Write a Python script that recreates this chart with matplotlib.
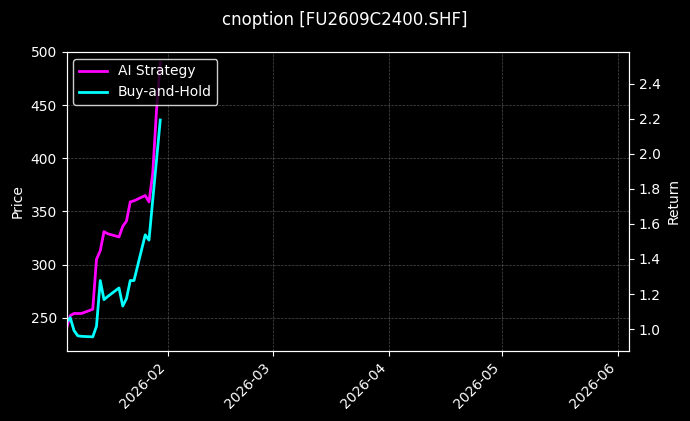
import matplotlib
matplotlib.use('Agg')
import matplotlib.pyplot as plt
import matplotlib.dates as mdates
import pandas as pd

dates = pd.to_datetime([
    '2026-01-05', '2026-01-06', '2026-01-07', '2026-01-08', '2026-01-09',
    '2026-01-12', '2026-01-13', '2026-01-14', '2026-01-15', '2026-01-16',
    '2026-01-19', '2026-01-20', '2026-01-21', '2026-01-22', '2026-01-23',
    '2026-01-26', '2026-01-27', '2026-01-28', '2026-01-29', '2026-01-30',
])
ai_strategy = [240, 252, 254, 254, 254, 258, 305, 313, 331, 329,
               326, 336, 341, 359, 360, 365, 359, 386, 445, 490]
buy_hold = [246, 250, 238, 233, 232.5, 232, 242, 285, 267, 270,
            278, 261, 268, 285, 285, 328, 323, 361, 398, 436]

plt.style.use('dark_background')
fig = plt.figure(figsize=(6.9, 4.21), dpi=100)
ax = fig.add_axes([66.5 / 690, 70 / 421, 562.5 / 690, 299 / 421])
ax2 = ax.twinx()

ax.plot(dates, ai_strategy, color='#ff00ff', lw=2, label='AI Strategy')
ax.plot(dates, buy_hold, color='#00ffff', lw=2, label='Buy-and-Hold')

ax.set_ylim(218.7, 500)
ax.set_xlim(pd.Timestamp('2026-01-05'), pd.Timestamp('2026-06-04'))
ax2.set_ylim(0.875, 2.58)
ax.set_ylabel('Price')
ax2.set_ylabel('Return')
ax.grid(True, color='gray', linestyle='--', linewidth=0.5, alpha=0.6)
ax.xaxis.set_major_locator(mdates.MonthLocator())
ax.xaxis.set_major_formatter(mdates.DateFormatter('%Y-%m'))
plt.setp(ax.get_xticklabels(), rotation=45, ha='right')
ax.legend(loc='upper left', facecolor='black', edgecolor='white')
fig.suptitle('cnoption [FU2609C2400.SHF]', y=0.975)

fig.savefig('out.png', facecolor='black')
